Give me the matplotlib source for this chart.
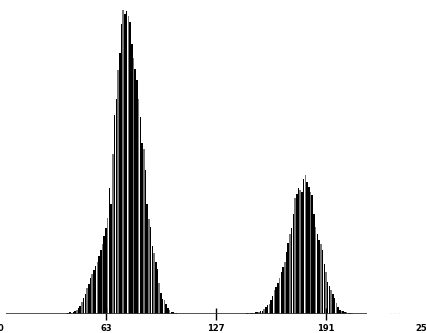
import numpy as np
import matplotlib
matplotlib.use("Agg")
import matplotlib.pyplot as plt
import matplotlib.transforms as mtransforms

# grey-level histogram, bar heights (arbitrary units)
low_bins = list(range(40, 48))
low_counts = [1, 1, 2, 1, 2, 3, 4, 6]

peak1_bins = list(range(48, 105))
peak1_counts = [8, 12, 16, 20, 26, 30, 36, 40, 44, 48, 52, 58, 64, 70, 78, 86, 96, 126, 110, 160,
                199, 215, 244, 261, 290, 304, 300, 303, 298, 292, 270, 256, 245, 234, 215, 197,
                171, 165, 144, 110, 95, 87, 68, 61, 52, 45, 31, 21, 15, 14, 10, 6, 4, 2, 2, 1, 1]

peak2_bins = list(range(145, 207))
peak2_counts = [1, 1, 1, 1, 1, 2, 2, 2, 3, 3, 5, 7, 9, 10, 14, 18, 24, 27, 31, 36, 42, 47, 52, 62,
                71, 80, 86, 100, 116, 120, 126, 124, 122, 135, 139, 132, 127, 122, 119, 100, 87,
                80, 74, 70, 64, 50, 42, 32, 28, 24, 20, 16, 11, 7, 4, 3, 3, 2, 2, 1, 1, 1]

tick_pos = [0, 63, 127, 191, 255]
tick_labels = ["0", "63", "127", "191", "255"]

bins = low_bins + peak1_bins + peak2_bins
counts = low_counts + peak1_counts + peak2_counts

fig = plt.figure(figsize=(4.27, 3.33), dpi=100)
ax = fig.add_axes([-2.3 / 427, 19 / 333, 438.3 / 427, 314 / 333])

bar_colors = ["black" if i % 3 else "#777777" for i in range(len(bins))]
ax.bar(bins, counts, width=0.9, color=bar_colors, linewidth=0)
ax.hlines(0, 4.8, 215, color="#333333", lw=1.2)
ax.hlines(0, 228, 234, color="#999999", lw=1, linestyles=":")

ax.set_xlim(0, 255)
ax.set_ylim(0, 314)
for s in ax.spines.values():
    s.set_visible(False)
ax.set_yticks([])
ax.set_xticks(tick_pos)
ax.set_xticklabels(tick_labels, fontsize=6, fontweight="bold")
ax.tick_params(axis="x", direction="inout", length=8, width=1, pad=3)
ax.xaxis.get_major_ticks()[0].set_visible(True)
ax.xaxis.get_major_ticks()[0].tick1line.set_visible(False)
ax.xaxis.get_major_ticks()[-1].tick1line.set_visible(False)

# end labels sit a little inside the figure edge, as in the original
labels = ax.get_xticklabels()
labels[0].set_transform(labels[0].get_transform() + mtransforms.ScaledTranslation(3 / 100, 0, fig.dpi_scale_trans))
labels[-1].set_transform(labels[-1].get_transform() + mtransforms.ScaledTranslation(-12 / 100, 0, fig.dpi_scale_trans))
ax.patch.set_alpha(0)

fig.savefig("out.png", dpi=100)
